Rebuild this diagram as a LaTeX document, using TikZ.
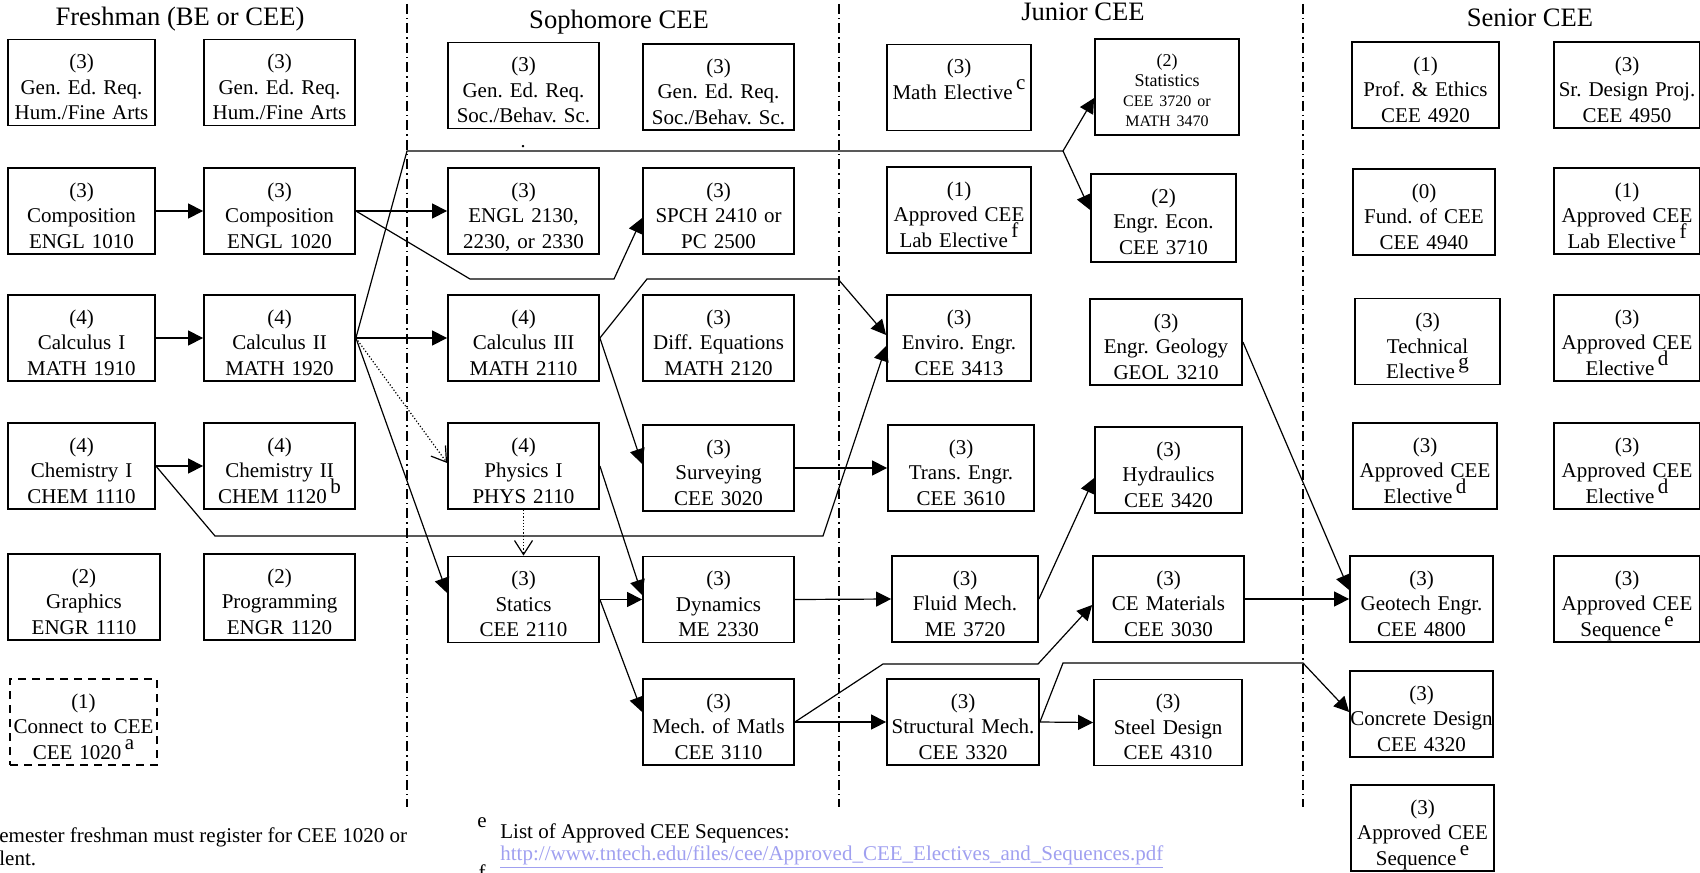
\documentclass[tikz,border=0pt]{standalone}
\usepackage{fontspec}
\setmainfont{Liberation Serif}
\usetikzlibrary{arrows.meta,positioning}
\definecolor{linkblue}{RGB}{160,160,240}
\newcommand{\supmark}[1]{\,\smash{\raisebox{5pt}{#1}}}

\begin{document}
\frenchspacing
\begin{tikzpicture}[x=0.5pt,y=-0.5pt,
  course/.style={draw,line width=0.9pt,inner sep=0pt,align=center,text width=#1,
    text height=14.6pt,text depth=28.4pt,font=\fontsize{10.5}{12.75}\selectfont},
  course/.default=73.5pt,
  prereq/.style={line width=0.6pt,-{Triangle[length=7.5pt,width=7.5pt]}},
  prereqline/.style={line width=0.6pt},
  coreq/.style={line width=0.6pt,densely dotted,-{Straight Barb[length=7pt,width=9pt]}},
  yearline/.style={line width=0.7pt,dash pattern=on 5pt off 2pt on 0.7pt off 2pt},
  yearhead/.style={inner sep=0pt,anchor=base,font=\fontsize{13.3}{15}\selectfont},
  footnote/.style={inner sep=0pt,anchor=base west,font=\fontsize{10.5}{12.75}\selectfont}]
\useasboundingbox (0,0) rectangle (1700,872);
\clip (0,0) rectangle (1700,872);

\draw[yearline] (407,4) -- (407,807);
\draw[yearline] (839,4) -- (839,807);
\draw[yearline] (1303,4) -- (1303,807);

\node[yearhead] (fresh) at (180,26) {Freshman (BE or CEE)};
\node[yearhead] (soph) at (619,29) {Sophomore CEE};
\node[yearhead] (junior) at (1083,21) {Junior CEE};
\node[yearhead] (senior) at (1530,27) {Senior CEE};

% freshman
\node[course] (hum1) at (81.5,82.5) {(3)\\Gen. Ed. Req.\\Hum./Fine Arts};
\node[course=75.5pt] (hum2) at (279.5,82.5) {(3)\\Gen. Ed. Req.\\Hum./Fine Arts};
\node[course] (comp1) at (81.5,211) {(3)\\Composition\\ENGL 1010};
\node[course=75.5pt] (comp2) at (279.5,211) {(3)\\Composition\\ENGL 1020};
\node[course] (calc1) at (81.5,338) {(4)\\Calculus I\\MATH 1910};
\node[course=75.5pt] (calc2) at (279.5,338) {(4)\\Calculus II\\MATH 1920};
\node[course] (chem1) at (81.5,466) {(4)\\Chemistry I\\CHEM 1110};
\node[course=75.5pt] (chem2) at (279.5,466) {(4)\\Chemistry II\\CHEM 1120\supmark{b}};
\node[course=76pt] (graph) at (84,597) {(2)\\Graphics\\ENGR 1110};
\node[course=75.5pt] (prog) at (279.5,597) {(2)\\Programming\\ENGR 1120};
\node[course,dash pattern=on 4pt off 3pt] (conn) at (83.5,722) {(1)\\Connect to CEE\\CEE 1020\supmark{a}};

% sophomore
\node[course=75.5pt] (soc1) at (523.5,85.5) {(3)\\Gen. Ed. Req.\\Soc./Behav. Sc.};
\node[course=75.5pt] (soc2) at (718.5,87) {(3)\\Gen. Ed. Req.\\Soc./Behav. Sc.};
\node[inner sep=0pt] (stray) at (523,147) {.};
\node[course=75.5pt] (engl) at (523.5,211) {(3)\\ENGL 2130,\\2230, or 2330};
\node[course=75.5pt] (spch) at (718.5,211) {(3)\\SPCH 2410 or\\PC 2500};
\node[course=75.5pt] (calc3) at (523.5,338) {(4)\\Calculus III\\MATH 2110};
\node[course=75.5pt] (diffeq) at (718.5,338) {(3)\\Diff. Equations\\MATH 2120};
\node[course=75.5pt] (phys) at (523.5,466) {(4)\\Physics I\\PHYS 2110};
\node[course=75.5pt] (surv) at (718.5,468) {(3)\\Surveying\\CEE 3020};
\node[course=75.5pt] (statics) at (523.5,599.5) {(3)\\Statics\\CEE 2110};
\node[course=75.5pt] (dyn) at (718.5,599.5) {(3)\\Dynamics\\ME 2330};
\node[course=75.5pt] (mech) at (718.5,722) {(3)\\Mech. of Matls\\CEE 3110};

% junior
\node[course=72pt] (mathel) at (959,87.5) {(3)\\Math Elective\supmark{c}};
\node[course=72pt,text height=13.75pt,text depth=34.25pt,font=\fontsize{9}{10}\selectfont] (stats) at (1167,87)
  {(2)\\Statistics\\{\fontsize{8}{10}\selectfont CEE 3720 or}\\{\fontsize{8}{10}\selectfont MATH 3470}};
\node[course=72pt] (labe) at (959,210) {(1)\\Approved CEE\\Lab Elective\supmark{f}};
\node[course=72.5pt,text depth=29.4pt] (econ) at (1163.5,218) {(2)\\Engr. Econ.\\CEE 3710};
\node[course=72pt] (enviro) at (959,338) {(3)\\Enviro. Engr.\\CEE 3413};
\node[course=76pt] (geol) at (1166,342) {(3)\\Engr. Geology\\GEOL 3210};
\node[course=73pt] (trans) at (961,468) {(3)\\Trans. Engr.\\CEE 3610};
\node[course=73.5pt] (hydr) at (1168.5,470) {(3)\\Hydraulics\\CEE 3420};
\node[course=73pt] (fluid) at (965,599) {(3)\\Fluid Mech.\\ME 3720};
\node[course=75.5pt] (mater) at (1168.5,599) {(3)\\CE Materials\\CEE 3030};
\node[course=76pt] (struct) at (963,722) {(3)\\Structural Mech.\\CEE 3320};
\node[course=74pt] (steel) at (1168,722.5) {(3)\\Steel Design\\CEE 4310};

% senior
\node[course] (prof) at (1425.5,85) {(1)\\Prof. \& Ethics\\CEE 4920};
\node[course=73pt] (srdes) at (1627,85) {(3)\\Sr. Design Proj.\\CEE 4950};
\node[course=71pt] (fund) at (1424,212) {(0)\\Fund. of CEE\\CEE 4940};
\node[course=73pt] (labs) at (1627,211) {(1)\\Approved CEE\\Lab Elective\supmark{f}};
\node[course=72.5pt] (tech) at (1427.5,341.5) {(3)\\Technical\\Elective\supmark{g}};
\node[course=73pt] (appr1) at (1627,338) {(3)\\Approved CEE\\Elective\supmark{d}};
\node[course=72pt] (appr2) at (1425,466) {(3)\\Approved CEE\\Elective\supmark{d}};
\node[course=73pt] (appr3) at (1627,466) {(3)\\Approved CEE\\Elective\supmark{d}};
\node[course=71.5pt] (geot) at (1421.5,599) {(3)\\Geotech Engr.\\CEE 4800};
\node[course=73pt] (seq1) at (1627,599) {(3)\\Approved CEE\\Sequence\supmark{e}};
\node[course=71.5pt] (concr) at (1421.5,714) {(3)\\Concrete Design\\CEE 4320};
\node[course=71.5pt] (seq2) at (1422.5,828) {(3)\\Approved CEE\\Sequence\supmark{e}};

% prerequisites
\draw[prereq] (comp1.east) -- (comp2.west);
\draw[prereq] (calc1.east) -- (calc2.west);
\draw[prereq] (chem1.east) -- (chem2.west);
\draw[prereq] (comp2.east) -- (engl.west);
\draw[prereq] (comp2.east) -- (470,279) -- (614,279) -- ([yshift=-3.5pt]spch.west);
\draw[prereq] (calc2.east) -- (calc3.west);
\draw[prereqline] (calc2.east) -- (407,151) -- (1063,151) coordinate (split);
\draw[prereq] (split) -- ([yshift=-5.5pt]stats.west);
\draw[prereq] (split) -- ([yshift=4pt]econ.west);
\draw[coreq] (calc2.east) -- ([yshift=1.5pt]phys.west);
\draw[prereq] (calc2.east) -- ([yshift=3.25pt]statics.west);
\draw[prereq] (chem1.east) -- (215,536) -- (823,536) -- ([yshift=-4pt]enviro.west);
\draw[prereq] (calc3.east) -- (647,279) -- (838,279) -- ([yshift=1.5pt]enviro.west);
\draw[prereq] (calc3.east) -- ([yshift=2pt]surv.west);
\draw[prereq] (phys.east) -- ([yshift=2.25pt]dyn.west);
\draw[coreq] (phys.south) -- (statics.north);
\draw[prereq] (statics.east) -- (dyn.west);
\draw[prereq] (statics.east) -- ([yshift=5pt]mech.west);
\draw[prereq] (surv.east) -- (trans.west);
\draw[prereq] (dyn.east) -- (fluid.west);
\draw[prereq] (mech.east) -- (struct.west);
\draw[prereq] (mech.east) -- (883,664) -- (1038,664) -- ([yshift=-3pt]mater.west);
\draw[prereq] (fluid.east) -- ([yshift=-4pt]hydr.west);
\draw[prereq] (struct.east) -- (steel.west);
\draw[prereq] (struct.east) -- (1063,663) -- (1303,663) -- ([yshift=1pt]concr.west);
\draw[prereq] (geol.east) -- ([yshift=4.5pt]geot.west);
\draw[prereq] (mater.east) -- (geot.west);

% footnotes
\node[footnote] (fnA1) at (-1,842) {emester freshman must register for CEE 1020 or};
\node[footnote] (fnA2) at (-1,865) {lent.};
\node[inner sep=0pt,font=\fontsize{10.5}{12}\selectfont] (fnEmark) at (482,823) {e};
\node[footnote] (fnE) at (500,838) {List of Approved CEE Sequences:};
\node[footnote,text=linkblue] (fnEurl) at (500,860)
  {\underline{http://www.tntech.edu/files/cee/Approved\_CEE\_Electives\_and\_Sequences.pdf}};
\node[inner sep=0pt,anchor=north,font=\fontsize{10.5}{12}\selectfont] (fnFmark) at (482,864) {f};
\end{tikzpicture}
\end{document}
